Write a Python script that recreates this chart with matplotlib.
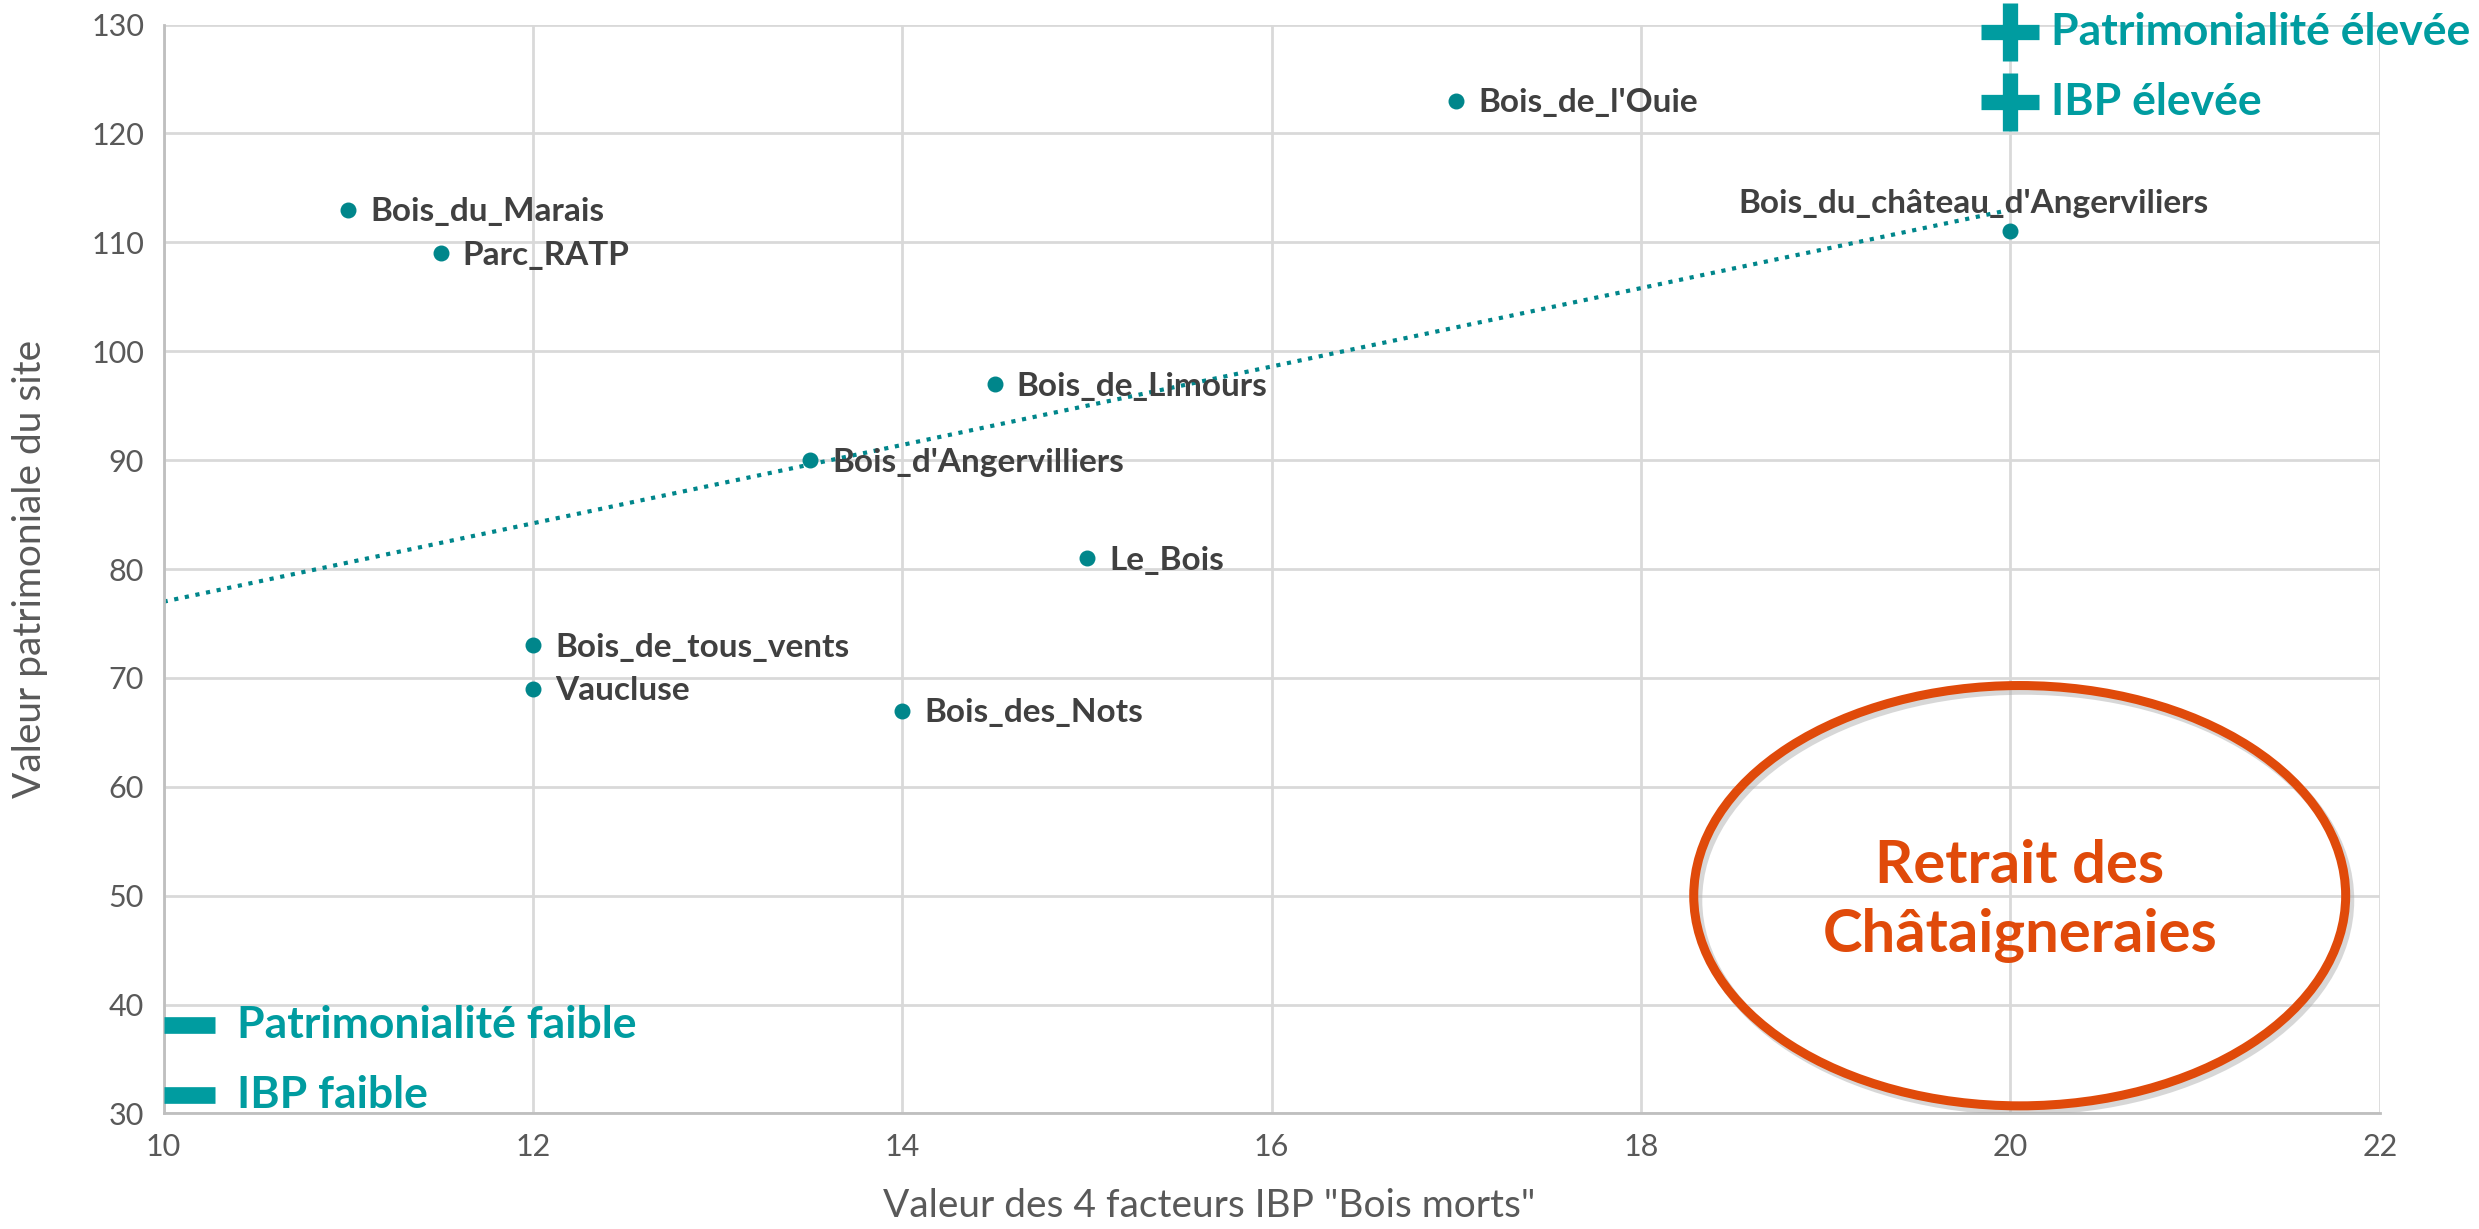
import matplotlib.pyplot as plt
from matplotlib.patches import Ellipse

# Sites: IBP "Bois morts" value vs site heritage value
sites = ["Bois_du_Marais", "Parc_RATP", "Bois_de_l'Ouie", "Bois_du_château_d'Angerviliers",
         "Bois_de_Limours", "Bois_d'Angervilliers", "Le_Bois", "Bois_de_tous_vents",
         "Vaucluse", "Bois_des_Nots"]
ibp_values = [11, 11.5, 17, 20, 14.5, 13.5, 15, 12, 12, 14]
heritage_values = [113, 109, 123, 111, 97, 90, 81, 73, 69, 67]

# Trend line as drawn in the source (end points)
trend_x = [10, 20]
trend_y = [77, 113]

x_ticks = [10, 12, 14, 16, 18, 20, 22]
y_ticks = [30, 40, 50, 60, 70, 80, 90, 100, 110, 120, 130]

teal = '#00868B'
teal_text = '#009CA0'
orange = '#E04A0A'
label_color = '#404040'
font = 'Lato'

fig = plt.figure(figsize=(24.79, 12.29), dpi=100)
ax = fig.add_axes([0.066, 0.094, 0.894, 0.886])

ax.plot(trend_x, trend_y, linestyle=(0, (1, 1.6)), color=teal, linewidth=3, zorder=2)
ax.scatter(ibp_values, heritage_values, s=110, color=teal, zorder=3)

for name, x, y in zip(sites, ibp_values, heritage_values):
    if name == "Bois_du_château_d'Angerviliers":
        ax.text(x - 0.2, y + 2.6, name, ha='center', va='center', fontsize=24,
                fontweight='bold', color=label_color, family=font, zorder=4)
    else:
        ax.text(x + 0.12, y - 0.2, name, ha='left', va='center', fontsize=24,
                fontweight='bold', color=label_color, family=font, zorder=4)

ax.set_xlim(10, 22)
ax.set_ylim(30, 130)
ax.set_xticks(x_ticks)
ax.set_yticks(y_ticks)
ax.grid(True, color='#D9D9D9', linewidth=2)
ax.set_axisbelow(True)
for side in ['top', 'right']:
    ax.spines[side].set_visible(False)
for side in ['left', 'bottom']:
    ax.spines[side].set_color('#BFBFBF')
    ax.spines[side].set_linewidth(2)
ax.tick_params(length=0, labelsize=22, labelcolor='#595959', pad=14)
for lbl in ax.get_xticklabels() + ax.get_yticklabels():
    lbl.set_family(font)

ax.set_xlabel('Valeur des 4 facteurs IBP "Bois morts"', fontsize=28, color='#595959',
              family=font)
ax.set_ylabel('Valeur patrimoniale du site', fontsize=28, color='#595959',
              family=font)
ax.xaxis.set_label_coords(0.472, -0.068)
ax.yaxis.set_label_coords(-0.052, 0.5)

# High / low annotations
ax.plot([20], [129.3], marker='+', markersize=42, markeredgewidth=11, color=teal_text,
        clip_on=False, zorder=5)
ax.plot([20], [122.9], marker='+', markersize=42, markeredgewidth=11, color=teal_text,
        clip_on=False, zorder=5)
ax.text(20.22, 129.3, 'Patrimonialité élevée', fontsize=32, fontweight='bold',
        color=teal_text, family=font, va='center', ha='left', clip_on=False)
ax.text(20.22, 122.9, 'IBP élevée', fontsize=32, fontweight='bold',
        color=teal_text, family=font, va='center', ha='left', clip_on=False)

ax.plot([10, 10.28], [38.1, 38.1], color=teal_text, linewidth=12, solid_capstyle='butt',
        clip_on=False, zorder=5)
ax.plot([10, 10.28], [31.7, 31.7], color=teal_text, linewidth=12, solid_capstyle='butt',
        clip_on=False, zorder=5)
ax.text(10.4, 38.1, 'Patrimonialité faible', fontsize=32, fontweight='bold',
        color=teal_text, family=font, va='center', ha='left')
ax.text(10.4, 31.7, 'IBP faible', fontsize=32, fontweight='bold',
        color=teal_text, family=font, va='center', ha='left')

# Chestnut grove withdrawal ellipse
shadow = Ellipse((20.07, 49.6), 3.53, 38.6, fill=False, edgecolor='#B0B0B0',
                 linewidth=7, alpha=0.5, zorder=5)
ax.add_patch(shadow)
ell = Ellipse((20.05, 50.0), 3.53, 38.6, fill=False, edgecolor=orange, linewidth=6.5,
              zorder=6)
ax.add_patch(ell)
ax.text(20.05, 49.5, 'Retrait des\nChâtaigneraies', fontsize=43, fontweight='bold',
        color=orange, family=font, ha='center', va='center', linespacing=1.35, zorder=7)

fig.savefig('out.png', dpi=100)
